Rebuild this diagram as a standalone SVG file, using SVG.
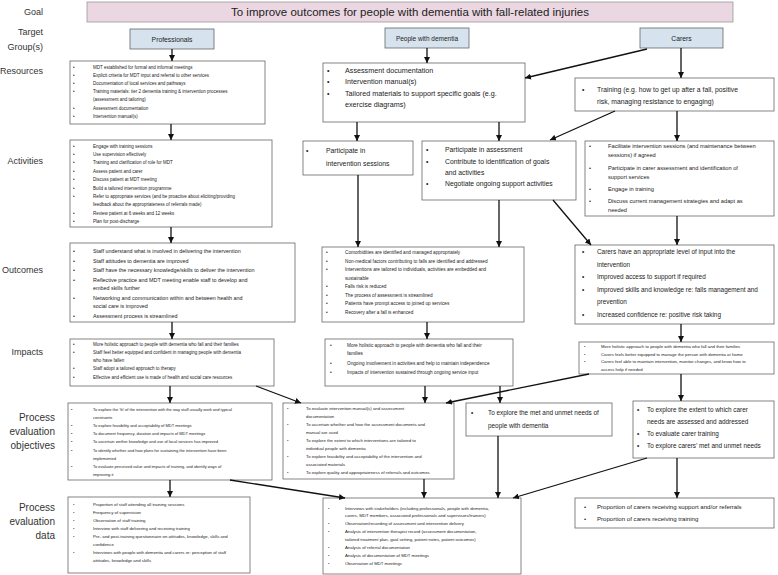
<svg xmlns="http://www.w3.org/2000/svg" width="778" height="575" viewBox="0 0 778 575">
<style>
text{font-family:"Liberation Sans",Arial,sans-serif;fill:#222}
.lab{font-size:9px;text-anchor:end;fill:#333}
.lab2{font-size:10px;text-anchor:end;fill:#333}
.box{fill:#fff;stroke:#666;stroke-width:0.8}
.tg{fill:#d6e3ee;stroke:#666;stroke-width:0.8}
.goal{fill:#ebd7e1;stroke:#999;stroke-width:0.8}
.c line{stroke:#111;stroke-width:1.3;marker-end:url(#ah)}
.t45{font-size:4.5px}.t40{font-size:4px}.t43{font-size:4.3px}.t47{font-size:4.7px}
.t54{font-size:5.4px}.t57{font-size:5.7px}.t61{font-size:6.1px}.t64{font-size:6.4px}.t68{font-size:6.8px}.t72{font-size:7.2px}
</style>
<defs>
<marker id="ah" viewBox="0 0 10 10" refX="10" refY="5" markerWidth="6" markerHeight="6" markerUnits="userSpaceOnUse" orient="auto"><path d="M0,0 L10,5 L0,10 z" fill="#111"/></marker>
</defs>

<g id="labels">
<text class="lab" x="43" y="15">Goal</text>
<text class="lab" x="43" y="35">Target</text>
<text class="lab" x="43" y="50">Group(s)</text>
<text class="lab" x="43" y="74">Resources</text>
<text class="lab" x="43" y="164">Activities</text>
<text class="lab" x="43" y="273">Outcomes</text>
<text class="lab" x="43" y="355">Impacts</text>
<text class="lab2" x="55" y="421">Process</text>
<text class="lab2" x="55" y="435">evaluation</text>
<text class="lab2" x="55" y="449">objectives</text>
<text class="lab2" x="55" y="511">Process</text>
<text class="lab2" x="55" y="525">evaluation</text>
<text class="lab2" x="55" y="539">data</text>
</g>

<g id="goal">
<rect class="goal" x="87" y="2" width="646" height="20"/>
<text x="410" y="16" font-size="11.5" text-anchor="middle">To improve outcomes for people with dementia with fall-related injuries</text>
</g>

<g id="tg-professionals"><rect class="tg" x="130" y="29" width="84" height="20"/><text x="172" y="41.5" font-size="6.8" text-anchor="middle">Professionals</text></g>
<g id="tg-people"><rect class="tg" x="385" y="28" width="84" height="20"/><text x="427" y="40.5" font-size="6.5" text-anchor="middle">People with dementia</text></g>
<g id="tg-carers"><rect class="tg" x="640" y="28" width="83" height="20"/><text x="681.5" y="40.5" font-size="6.8" text-anchor="middle">Carers</text></g>

<g id="res-prof">
<rect class="box" x="70" y="61" width="195" height="63"/>
<text class="t45"><tspan x="73" y="68.5">•</tspan><tspan x="73" y="76.7">•</tspan><tspan x="73" y="84.9">•</tspan><tspan x="73" y="93.1">•</tspan><tspan x="73" y="109.5">•</tspan><tspan x="73" y="117.7">•</tspan></text>
<text class="t45"><tspan x="93" y="68.5">MDT established for formal and informal meetings</tspan><tspan x="93" y="76.7">Explicit criteria for MDT input and referral to other services</tspan><tspan x="93" y="84.9">Documentation of local services and pathways</tspan><tspan x="93" y="93.1">Training materials: tier 2 dementia training &amp; intervention processes</tspan><tspan x="93" y="101.3">(assessment and tailoring)</tspan><tspan x="93" y="109.5">Assessment documentation</tspan><tspan x="93" y="117.7">Intervention manual(s)</tspan></text>
</g>

<g id="res-people">
<rect class="box" x="323" y="63" width="202" height="59"/>
<text class="t72"><tspan x="327" y="72.5">•</tspan><tspan x="327" y="84">•</tspan><tspan x="327" y="95.5">•</tspan></text>
<text class="t72"><tspan x="345" y="72.5">Assessment documentation</tspan><tspan x="345" y="84">Intervention manual(s)</tspan><tspan x="345" y="95.5">Tailored materials to support specific goals (e.g.</tspan><tspan x="345" y="107">exercise diagrams)</tspan></text>
</g>

<g id="res-carers">
<rect class="box" x="575" y="78" width="199" height="33"/>
<text class="t68"><tspan x="582" y="91.5">•</tspan></text>
<text class="t68"><tspan x="597" y="91.5">Training (e.g. how to get up after a fall, positive</tspan><tspan x="597" y="104">risk, managing resistance to engaging)</tspan></text>
</g>

<g id="act-prof">
<rect class="box" x="70" y="140" width="202" height="87"/>
<text class="t45"><tspan x="73" y="147.6">•</tspan><tspan x="73" y="156">•</tspan><tspan x="73" y="164.4">•</tspan><tspan x="73" y="172.8">•</tspan><tspan x="73" y="181.2">•</tspan><tspan x="73" y="189.6">•</tspan><tspan x="73" y="198">•</tspan><tspan x="73" y="214.8">•</tspan><tspan x="73" y="223.2">•</tspan></text>
<text class="t45"><tspan x="93" y="147.6">Engage with training sessions</tspan><tspan x="93" y="156">Use supervision effectively</tspan><tspan x="93" y="164.4">Training and clarification of role for MDT</tspan><tspan x="93" y="172.8">Assess patient and carer</tspan><tspan x="93" y="181.2">Discuss patient at MDT meeting</tspan><tspan x="93" y="189.6">Build a tailored intervention programme</tspan><tspan x="93" y="198">Refer to appropriate services (and be proactive about eliciting/providing</tspan><tspan x="93" y="206.4">feedback about the appropriateness of referrals made)</tspan><tspan x="93" y="214.8">Review patient at 6 weeks and 12 weeks</tspan><tspan x="93" y="223.2">Plan for post-discharge</tspan></text>
</g>

<g id="act-people-1">
<rect class="box" x="303" y="141" width="110" height="34"/>
<text class="t68"><tspan x="306" y="152.5">•</tspan></text>
<text class="t68"><tspan x="326" y="152.5">Participate in</tspan><tspan x="326" y="165.5">intervention sessions</tspan></text>
</g>

<g id="act-people-2">
<rect class="box" x="422" y="141" width="154" height="59"/>
<text class="t68"><tspan x="426" y="151.5">•</tspan><tspan x="426" y="163.5">•</tspan><tspan x="426" y="185.5">•</tspan></text>
<text class="t68"><tspan x="445" y="151.5">Participate in assessment</tspan><tspan x="445" y="163.5">Contribute to identification of goals</tspan><tspan x="445" y="174.5">and activities</tspan><tspan x="445" y="185.5">Negotiate ongoing support activities</tspan></text>
</g>

<g id="act-carers">
<rect class="box" x="585" y="141" width="189" height="75"/>
<text class="t57"><tspan x="589" y="148">•</tspan><tspan x="589" y="170">•</tspan><tspan x="589" y="191">•</tspan><tspan x="589" y="203">•</tspan></text>
<text class="t57"><tspan x="608" y="148">Facilitate intervention sessions (and maintenance between</tspan><tspan x="608" y="156.5">sessions) if agreed</tspan><tspan x="608" y="170">Participate in carer assessment and identification of</tspan><tspan x="608" y="178.5">support services</tspan><tspan x="608" y="191">Engage in training</tspan><tspan x="608" y="203">Discuss current management strategies and adapt as</tspan><tspan x="608" y="211.5">needed</tspan></text>
</g>

<g id="out-prof">
<rect class="box" x="70" y="243" width="225" height="79"/>
<text class="t54"><tspan x="73" y="253">•</tspan><tspan x="73" y="262.5">•</tspan><tspan x="73" y="272">•</tspan><tspan x="73" y="281.5">•</tspan><tspan x="73" y="299.5">•</tspan><tspan x="73" y="317.5">•</tspan></text>
<text class="t54"><tspan x="93" y="253">Staff understand what is involved in delivering the intervention</tspan><tspan x="93" y="262.5">Staff attitudes to dementia are improved</tspan><tspan x="93" y="272">Staff have the necessary knowledge/skills to deliver the intervention</tspan><tspan x="93" y="281.5">Reflective practice and MDT meeting enable staff to develop and</tspan><tspan x="93" y="290">embed skills further</tspan><tspan x="93" y="299.5">Networking and communication within and between health and</tspan><tspan x="93" y="308">social care is improved</tspan><tspan x="93" y="317.5">Assessment process is streamlined</tspan></text>
</g>

<g id="out-people">
<rect class="box" x="322" y="247" width="202" height="75"/>
<text class="t47"><tspan x="326" y="254">•</tspan><tspan x="326" y="262.5">•</tspan><tspan x="326" y="271">•</tspan><tspan x="326" y="288">•</tspan><tspan x="326" y="296.5">•</tspan><tspan x="326" y="305">•</tspan><tspan x="326" y="313.5">•</tspan></text>
<text class="t47"><tspan x="345" y="254">Comorbidities are identified and managed appropriately</tspan><tspan x="345" y="262.5">Non-medical factors contributing to falls are identified and addressed</tspan><tspan x="345" y="271">Interventions are tailored to individuals, activities are embedded and</tspan><tspan x="345" y="279.5">sustainable</tspan><tspan x="345" y="288">Falls risk is reduced</tspan><tspan x="345" y="296.5">The process of assessment is streamlined</tspan><tspan x="345" y="305">Patients have prompt access to joined up services</tspan><tspan x="345" y="313.5">Recovery after a fall is enhanced</tspan></text>
</g>

<g id="out-carers">
<rect class="box" x="575" y="245" width="199" height="79"/>
<text class="t64"><tspan x="582" y="254">•</tspan><tspan x="582" y="279">•</tspan><tspan x="582" y="291.5">•</tspan><tspan x="582" y="316.5">•</tspan></text>
<text class="t64"><tspan x="597" y="254">Carers have an appropriate level of input into the</tspan><tspan x="597" y="266.5">intervention</tspan><tspan x="597" y="279">Improved access to support if required</tspan><tspan x="597" y="291.5">Improved skills and knowledge re: falls management and</tspan><tspan x="597" y="304">prevention</tspan><tspan x="597" y="316.5">Increased confidence re: positive risk taking</tspan></text>
</g>

<g id="imp-prof">
<rect class="box" x="70" y="339" width="204" height="47"/>
<text class="t45"><tspan x="73" y="345.5">•</tspan><tspan x="73" y="353.5">•</tspan><tspan x="73" y="370">•</tspan><tspan x="73" y="378.5">•</tspan></text>
<text class="t45"><tspan x="93" y="345.5">More holistic approach to people with dementia who fall and their families</tspan><tspan x="93" y="353.5">Staff feel better equipped and confident in managing people with dementia</tspan><tspan x="93" y="361.5">who have fallen</tspan><tspan x="93" y="370">Staff adopt a tailored approach to therapy</tspan><tspan x="93" y="378.5">Effective and efficient use is made of health and social care resources</tspan></text>
</g>

<g id="imp-people">
<rect class="box" x="325" y="339" width="188" height="47"/>
<text class="t47"><tspan x="330" y="346.5">•</tspan><tspan x="330" y="364.5">•</tspan><tspan x="330" y="374">•</tspan></text>
<text class="t47"><tspan x="347" y="346.5">More holistic approach to people with dementia who fall and their</tspan><tspan x="347" y="355">families</tspan><tspan x="347" y="364.5">Ongoing involvement in activities and help to maintain independence</tspan><tspan x="347" y="374">Impacts of intervention sustained through ongoing service input</tspan></text>
</g>

<g id="imp-carers">
<rect class="box" x="579" y="342" width="195" height="32"/>
<text class="t43"><tspan x="584" y="348">•</tspan><tspan x="584" y="355.5">•</tspan><tspan x="584" y="363">•</tspan></text>
<text class="t43"><tspan x="601" y="348">More holistic approach to people with dementia who fall and their families</tspan><tspan x="601" y="355.5">Carers feels better equipped to manage the person with dementia at home</tspan><tspan x="601" y="363">Carers feel able to maintain intervention, monitor changes, and know how to</tspan><tspan x="601" y="370.5">access help if needed</tspan></text>
</g>

<g id="obj-prof">
<rect class="box" x="68" y="403" width="204" height="77"/>
<text class="t40"><tspan x="71" y="410.5">•</tspan><tspan x="71" y="426.9">•</tspan><tspan x="71" y="435.1">•</tspan><tspan x="71" y="443.3">•</tspan><tspan x="71" y="451.5">•</tspan><tspan x="71" y="467.9">•</tspan></text>
<text class="t40"><tspan x="93" y="410.5">To explore the ‘fit’ of the intervention with the way staff usually work and typical</tspan><tspan x="93" y="418.7">constraints</tspan><tspan x="93" y="426.9">To explore feasibility and acceptability of MDT meetings</tspan><tspan x="93" y="435.1">To document frequency, duration and impacts of MDT meetings</tspan><tspan x="93" y="443.3">To ascertain wether knowledge and use of local services has improved</tspan><tspan x="93" y="451.5">To identify whether and how plans for sustaining the intervention have been</tspan><tspan x="93" y="459.7">implemented</tspan><tspan x="93" y="467.9">To evaluate perceived value and impacts of training, and identify ways of</tspan><tspan x="93" y="476.1">improving it</tspan></text>
</g>

<g id="obj-people">
<rect class="box" x="283" y="403" width="171" height="76"/>
<text class="t43"><tspan x="287" y="409.5">•</tspan><tspan x="287" y="425.7">•</tspan><tspan x="287" y="441.9">•</tspan><tspan x="287" y="458.1">•</tspan><tspan x="287" y="474.3">•</tspan></text>
<text class="t43"><tspan x="306" y="409.5">To evaluate intervention manual(s) and assessment</tspan><tspan x="306" y="417.6">documentation</tspan><tspan x="306" y="425.7">To ascertain whether and how the assessment documents and</tspan><tspan x="306" y="433.8">manual are used</tspan><tspan x="306" y="441.9">To explore the extent to which interventions are tailored to</tspan><tspan x="306" y="450">individual people with dementia</tspan><tspan x="306" y="458.1">To explore feasibility and acceptability of the intervention and</tspan><tspan x="306" y="466.2">associated materials</tspan><tspan x="306" y="474.3">To explore quality and appropriateness of referrals and outcomes</tspan></text>
</g>

<g id="obj-people-needs">
<rect class="box" x="466" y="403" width="146" height="33"/>
<text class="t64"><tspan x="471" y="415">•</tspan></text>
<text class="t64"><tspan x="488" y="415">To explore the met and unmet needs of</tspan><tspan x="488" y="428">people with dementia</tspan></text>
</g>

<g id="obj-carers">
<rect class="box" x="633" y="401" width="141" height="57"/>
<text class="t64"><tspan x="637" y="412">•</tspan><tspan x="637" y="436">•</tspan><tspan x="637" y="448">•</tspan></text>
<text class="t64"><tspan x="647" y="412">To explore the extent to which carer</tspan><tspan x="647" y="424">needs are assessed and addressed</tspan><tspan x="647" y="436">To evaluate carer training</tspan><tspan x="647" y="448">To explore carers’ met and unmet needs</tspan></text>
</g>

<g id="data-prof">
<rect class="box" x="68" y="497" width="182" height="76"/>
<text class="t43"><tspan x="73" y="505.5">•</tspan><tspan x="73" y="513.6">•</tspan><tspan x="73" y="521.7">•</tspan><tspan x="73" y="529.8">•</tspan><tspan x="73" y="537.9">•</tspan><tspan x="73" y="554.1">•</tspan></text>
<text class="t43"><tspan x="93" y="505.5">Proportion of staff attending all training sessions</tspan><tspan x="93" y="513.6">Frequency of supervision</tspan><tspan x="93" y="521.7">Observation of staff training</tspan><tspan x="93" y="529.8">Interview with staff delivering and receiving training</tspan><tspan x="93" y="537.9">Pre- and post-training questionnaire on attitudes, knowledge, skills and</tspan><tspan x="93" y="546">confidence</tspan><tspan x="93" y="554.1">Interviews with people with dementia and carers re: perception of staff</tspan><tspan x="93" y="562.2">attitudes, knowledge and skills</tspan></text>
</g>

<g id="data-people">
<rect class="box" x="323" y="498" width="198" height="76"/>
<text class="t43"><tspan x="328" y="509.5">•</tspan><tspan x="328" y="525.3">•</tspan><tspan x="328" y="533.2">•</tspan><tspan x="328" y="549">•</tspan><tspan x="328" y="556.9">•</tspan><tspan x="328" y="564.8">•</tspan></text>
<text class="t43"><tspan x="345" y="509.5">Interviews with stakeholders (including professionals, people with dementia,</tspan><tspan x="345" y="517.4">carers, MDT members, associated professionals and supervisors/trainers)</tspan><tspan x="345" y="525.3">Observation/recording of assessment and intervention delivery</tspan><tspan x="345" y="533.2">Analysis of intervention therapist record (assessment documentation,</tspan><tspan x="345" y="541.1">tailored treatment plan, goal setting, patient notes, patient outcomes)</tspan><tspan x="345" y="549">Analysis of referral documentation</tspan><tspan x="345" y="556.9">Analysis of documentation of MDT meetings</tspan><tspan x="345" y="564.8">Observation of MDT meetings</tspan></text>
</g>

<g id="data-carers">
<rect class="box" x="575" y="498" width="199" height="30"/>
<text class="t61"><tspan x="584" y="509">•</tspan><tspan x="584" y="521">•</tspan></text>
<text class="t61"><tspan x="597" y="509">Proportion of carers receiving support and/or referrals</tspan><tspan x="597" y="521">Proportion of carers receiving training</tspan></text>
</g>

<g id="connectors" class="c">
<line x1="172" y1="49" x2="172" y2="61"/>
<line x1="427" y1="48" x2="427" y2="63"/>
<line x1="681" y1="48" x2="681" y2="78"/>
<line x1="647" y1="49" x2="525" y2="78"/>
<line x1="171" y1="124" x2="171" y2="140"/>
<line x1="357" y1="122" x2="357" y2="141"/>
<line x1="499" y1="122" x2="499" y2="141"/>
<line x1="615" y1="111" x2="550" y2="140"/>
<line x1="677" y1="111" x2="677" y2="141"/>
<line x1="171" y1="227" x2="171" y2="243"/>
<line x1="358" y1="175" x2="358" y2="247"/>
<line x1="499" y1="200" x2="499" y2="247"/>
<line x1="553" y1="200" x2="591" y2="245"/>
<line x1="677" y1="216" x2="677" y2="245"/>
<line x1="172" y1="322" x2="172" y2="339"/>
<line x1="427" y1="322" x2="427" y2="339"/>
<line x1="681" y1="324" x2="681" y2="342"/>
<line x1="170" y1="386" x2="170" y2="403"/>
<line x1="256" y1="386" x2="301" y2="403"/>
<line x1="425" y1="386" x2="425" y2="403"/>
<line x1="500" y1="386" x2="500" y2="403"/>
<line x1="589" y1="374" x2="446" y2="403"/>
<line x1="681" y1="374" x2="681" y2="401"/>
<line x1="170" y1="480" x2="170" y2="497"/>
<line x1="230" y1="480" x2="345" y2="498"/>
<line x1="424" y1="479" x2="424" y2="498"/>
<line x1="498" y1="436" x2="498" y2="498"/>
<line x1="647" y1="458" x2="513" y2="498"/>
<line x1="677" y1="458" x2="677" y2="498"/>
</g>
</svg>
